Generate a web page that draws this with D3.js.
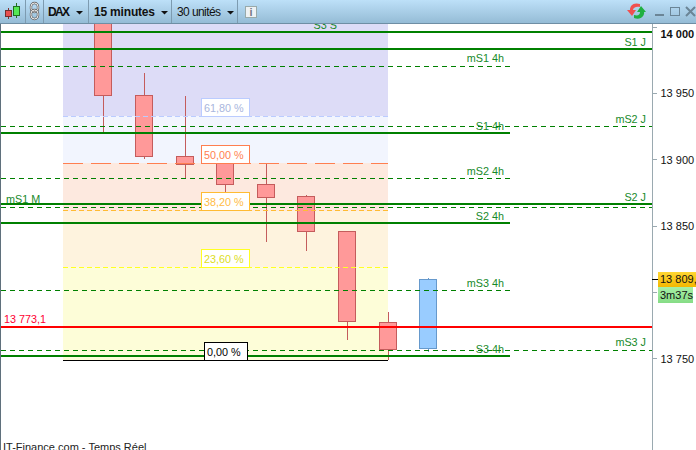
<!DOCTYPE html>
<html><head><meta charset="utf-8">
<script src="https://cdnjs.cloudflare.com/ajax/libs/d3/7.8.5/d3.min.js"></script>
<style>html,body{margin:0;padding:0;background:#fff;overflow:hidden}svg{display:block}text{font-family:"Liberation Sans",Arial,sans-serif}</style>
</head><body><svg id="c" width="696" height="450"></svg>
<script>
// ---- data ----
const candleOpen  = [14012.5,13948.2,13902.3,13898.0,13881.2,13872.1,13845.7,13777.1,13757.5];
const candleClose = [13947.9,13902.0,13896.2,13881.2,13871.1,13845.7,13777.6,13756.5,13809.5];
const candleHigh  = [14020.0,13965.1,13947.7,13899.5,13897.0,13873.1,13845.7,13784.9,13810.5];
const candleLow   = [13920.6,13900.2,13885.7,13875.1,13837.9,13831.1,13763.8,13748.7,13754.7];
const tickValues  = [14000,13950,13900,13850,13800,13750];
const tickLabels  = ["14 000","13 950","13 900","13 850","","13 750"];

const fibValues = [14060,13932.3,13897.0,13861.4,13818.6,13748.5];
const fibFills  = ["#dddcf7","#f2f5fe","#fde9df","#fef3de","#fdfdd8"];
const fibNames  = ["61,80 %","50,00 %","38,20 %","23,60 %","0,00 %"];
const fibColors = ["#bbccff","#ff7f50","#ffbb33","#ffff22","#000000"];
const fibText   = ["#a9b6dd","#ff7f50","#ffbb44","#dddd22","#000000"];
const fibDash   = ["5,3","20,8","5,3","5,3",null];

const solidNames  = ["S3 S","S1 J","S1 4h","S2 J","S2 4h","S3 4h"];
const solidValues = [13996,13983.4,13919.8,13866.5,13852.2,13751.7];
const solidEnds   = [2,2,1,2,1,1];
const dashNames   = ["mS1 4h","mS2 J","mS2 4h","mS1 M","mS3 4h","mS3 J"];
const dashValues  = [13970.1,13924.7,13885.5,13864,13801.1,13756];
const dashEnds    = [1,2,1,2,1,2];
const closeRef = 13773.8, closeRefLabel = "13 773,1";
const lastPrice = 13809.5, lastLabel = "13 809,5", countdown = "3m37s";
const footer = "IT-Finance.com - Temps Réel";

// ---- scales ----
const y = d3.scaleLinear().domain([13750,13900]).range([358.3,159.3]);
const x = d3.scaleLinear().domain([0,8]).range([103.3,428.3]);
const crisp = v => Math.round(v-0.5)+0.5;
const endX = [null,x(10),652];
const fibX0 = x(-1), fibX1 = x(7), W = 17, FS = 10.8;

const svg = d3.select("#c");
const defs = svg.append("defs");
defs.append("clipPath").attr("id","plot").append("rect").attr("x",1).attr("y",24).attr("width",651).attr("height",426);
const tg = defs.append("linearGradient").attr("id","bar").attr("x1",0).attr("x2",0).attr("y1",0).attr("y2",1);
tg.append("stop").attr("offset",0).attr("stop-color","#bde0f8");
tg.append("stop").attr("offset",1).attr("stop-color","#95bcd6");
const gg = defs.append("linearGradient").attr("id","gold").attr("x1",0).attr("x2",0).attr("y1",0).attr("y2",1);
gg.append("stop").attr("offset",0).attr("stop-color","#ffd633");
gg.append("stop").attr("offset",1).attr("stop-color","#f4b800");
const gr = defs.append("linearGradient").attr("id","grn").attr("x1",0).attr("x2",0).attr("y1",0).attr("y2",1);
gr.append("stop").attr("offset",0).attr("stop-color","#a6f0a6");
gr.append("stop").attr("offset",1).attr("stop-color","#86dc86");

const plot = svg.append("g").attr("clip-path","url(#plot)");

// fib zones
plot.append("g").selectAll("rect").data(fibFills).join("rect")
  .attr("x",fibX0).attr("width",fibX1-fibX0)
  .attr("y",(d,i)=>y(fibValues[i])).attr("height",(d,i)=>y(fibValues[i+1])-y(fibValues[i]))
  .attr("fill",d=>d).attr("shape-rendering","crispEdges");

// candles
const cg = plot.append("g").selectAll("g").data(candleOpen).join("g");
const col = i => candleClose[i]>=candleOpen[i] ? ["#99ccff","#6699cc"] : ["#ff9999","#c45c5c"];
cg.append("line").attr("x1",(d,i)=>crisp(x(i)-W/2)+9).attr("x2",(d,i)=>crisp(x(i)-W/2)+9)
  .attr("y1",(d,i)=>y(candleHigh[i])).attr("y2",(d,i)=>y(candleLow[i]))
  .attr("stroke",(d,i)=>col(i)[1]).attr("shape-rendering","crispEdges");
cg.append("rect").attr("x",(d,i)=>crisp(x(i)-W/2)).attr("width",W)
  .attr("y",(d,i)=>crisp(y(Math.max(candleOpen[i],candleClose[i]))))
  .attr("height",(d,i)=>crisp(y(Math.min(candleOpen[i],candleClose[i])))-crisp(y(Math.max(candleOpen[i],candleClose[i]))))
  .attr("fill",(d,i)=>col(i)[0]).attr("stroke",(d,i)=>col(i)[1]).attr("shape-rendering","crispEdges");

// fib lines
plot.append("g").selectAll("line").data(fibNames).join("line")
  .attr("x1",fibX0).attr("x2",fibX1)
  .attr("y1",(d,i)=>crisp(y(fibValues[i+1]))).attr("y2",(d,i)=>crisp(y(fibValues[i+1])))
  .attr("stroke",(d,i)=>fibColors[i]).attr("stroke-dasharray",(d,i)=>fibDash[i]).attr("shape-rendering","crispEdges");

// level lines
plot.append("g").selectAll("line").data(solidValues).join("line")
  .attr("x1",1).attr("x2",(d,i)=>endX[solidEnds[i]])
  .attr("y1",d=>Math.round(y(d))).attr("y2",d=>Math.round(y(d)))
  .attr("stroke","#008000").attr("stroke-width",2).attr("shape-rendering","crispEdges");
plot.append("g").selectAll("line").data(dashValues).join("line")
  .attr("x1",1).attr("x2",(d,i)=>endX[dashEnds[i]])
  .attr("y1",d=>crisp(y(d))).attr("y2",d=>crisp(y(d)))
  .attr("stroke","#008000").attr("stroke-dasharray","5,4").attr("shape-rendering","crispEdges");
plot.append("line").attr("x1",1).attr("x2",652)
  .attr("y1",Math.round(y(closeRef))).attr("y2",Math.round(y(closeRef)))
  .attr("stroke","#ff0000").attr("stroke-width",2).attr("shape-rendering","crispEdges");

// level labels
const lvlText = (name,val,end,off) => {
  const left = name==="mS1 M";
  const xx = left ? 6 : name==="S3 S" ? 337 : end===1 ? 504 : 646;
  plot.append("text").attr("x",xx).attr("y",y(val)-off)
    .attr("text-anchor",left?"start":"end").attr("font-size",FS).attr("fill","#178a2a").text(name);
};
solidNames.forEach((n,i)=>lvlText(n,solidValues[i],solidEnds[i],3));
dashNames.forEach((n,i)=>lvlText(n,dashValues[i],dashEnds[i],4));
plot.append("text").attr("x",4).attr("y",y(closeRef)-4).attr("font-size",FS).attr("fill","#ff0033").text(closeRefLabel);

// fib labels
const fl = plot.append("g").selectAll("g").data(fibNames).join("g");
fl.append("rect").attr("x",(d,i)=>i===4?204.5:201.5).attr("width",(d,i)=>i===4?43:48)
  .attr("y",(d,i)=>crisp(y(fibValues[i+1]))-18).attr("height",18)
  .attr("fill","#fff").attr("stroke",(d,i)=>fibColors[i]).attr("shape-rendering","crispEdges");
fl.append("text").attr("x",(d,i)=>i===4?207:204).attr("y",(d,i)=>crisp(y(fibValues[i+1]))-5)
  .attr("font-size",FS).attr("fill",(d,i)=>fibText[i]).text(d=>d);

// footer
plot.append("text").attr("x",3).attr("y",451).attr("font-size",11).attr("fill","#222").text(footer);

// axis
const axis = d3.axisRight(y).tickValues(tickValues).tickSize(4).tickPadding(4)
  .tickFormat((d,i)=>tickLabels[i]);
const ag = svg.append("g").attr("transform","translate(652.5,0)").call(axis);
ag.select(".domain").remove();
ag.selectAll(".tick line").attr("stroke","#9aa9b0").attr("shape-rendering","crispEdges");
ag.selectAll(".tick text").attr("font-size",FS+0.2).attr("font-family",'"Liberation Sans"').attr("fill","#111")
  .attr("font-weight",d=>d===14000?"bold":"normal")
  .attr("dy",d=>d===14000?"0.95em":"0.36em");
svg.append("line").attr("x1",652.5).attr("x2",652.5).attr("y1",24).attr("y2",450).attr("stroke","#9aa9b0");

// last price boxes
svg.append("line").attr("x1",652).attr("x2",658).attr("y1",crisp(y(lastPrice))).attr("y2",crisp(y(lastPrice))).attr("stroke","#000").attr("shape-rendering","crispEdges");
svg.append("rect").attr("x",658).attr("y",272).attr("width",39).attr("height",15).attr("fill","url(#gold)");
svg.append("text").attr("x",660).attr("y",283).attr("font-size",FS+0.2).attr("fill","#111").text(lastLabel);
svg.append("rect").attr("x",658).attr("y",287).attr("width",35).attr("height",16).attr("fill","url(#grn)");
svg.append("text").attr("x",660).attr("y",299).attr("font-size",FS+0.2).attr("fill","#111").text(countdown);

// left border
svg.append("rect").attr("x",0).attr("y",24).attr("width",1).attr("height",426).attr("fill","#5f707c");

// toolbar
const tb = svg.append("g");
tb.append("rect").attr("width",696).attr("height",23).attr("fill","url(#bar)");
tb.append("rect").attr("y",23).attr("width",696).attr("height",1).attr("fill","#6f8ea4");
[25,43,88,171,237].forEach(v=>tb.append("rect").attr("x",v).attr("y",0).attr("width",1).attr("height",23).attr("fill","#7d9bb0"));
// candle icon
tb.append("line").attr("x1",8.5).attr("x2",8.5).attr("y1",8).attr("y2",19).attr("stroke","#803030");
tb.append("rect").attr("x",5.5).attr("y",10.5).attr("width",6).attr("height",6).attr("fill","#e85050").attr("stroke","#703030");
tb.append("line").attr("x1",16.5).attr("x2",16.5).attr("y1",3).attr("y2",18).attr("stroke","#207020");
tb.append("rect").attr("x",13.5).attr("y",6.5).attr("width",6).attr("height",9).attr("fill","#55e855").attr("stroke","#207020");
// link icon
[3,10].forEach(t=>{
  tb.append("rect").attr("x",31).attr("y",t).attr("width",7).attr("height",9).attr("rx",3.5).attr("fill","none").attr("stroke","#666").attr("stroke-width",2.4);
  tb.append("rect").attr("x",31).attr("y",t).attr("width",7).attr("height",9).attr("rx",3.5).attr("fill","none").attr("stroke","#f4f4f4").attr("stroke-width",1);
});
// toolbar labels
const lab=(t,xx,w,ls)=>tb.append("text").attr("x",xx).attr("y",16).attr("font-size",12).attr("font-weight",w).attr("fill","#111").attr("textLength",ls).text(t);
lab("DAX",48,"bold",22); lab("15 minutes",94,"bold",61); lab("30 unités",177,"normal",44);
[[76,11],[161,11],[227,11]].forEach(p=>tb.append("path").attr("d",`M${p[0]},${p[1]}h7l-3.5,3.5z`).attr("fill","#111"));
// info icon
tb.append("rect").attr("x",245.5).attr("y",6.5).attr("width",11).attr("height",11).attr("fill","#eef2f4").attr("stroke","#9aa");
tb.append("text").attr("x",251).attr("y",16).attr("text-anchor","middle").attr("font-size",11).attr("font-weight","bold").attr("fill","#778").text("i");
// refresh icon
tb.append("path").attr("d","M640,4 C633,2 630,6 630,10 L627,10 L632,16 L636,10 L633,10 C633,8 636,6 640,7 Z").attr("fill","#f05050");
tb.append("path").attr("d","M634,18 C641,21 645,15 644,12 L646,12 L641,6 L637,12 L640,12 C640,15 638,16 634,15 Z").attr("fill","#20b040");
// window controls
tb.append("rect").attr("x",655).attr("y",14).attr("width",9).attr("height",2).attr("fill","#6b8596");
tb.append("rect").attr("x",670.5).attr("y",7.5).attr("width",9).attr("height",8).attr("fill","none").attr("stroke","#6b8596");
tb.append("path").attr("d","M686,7L695,16M695,7L686,16").attr("stroke","#6b8596").attr("stroke-width",2).attr("fill","none");
</script></body></html>
